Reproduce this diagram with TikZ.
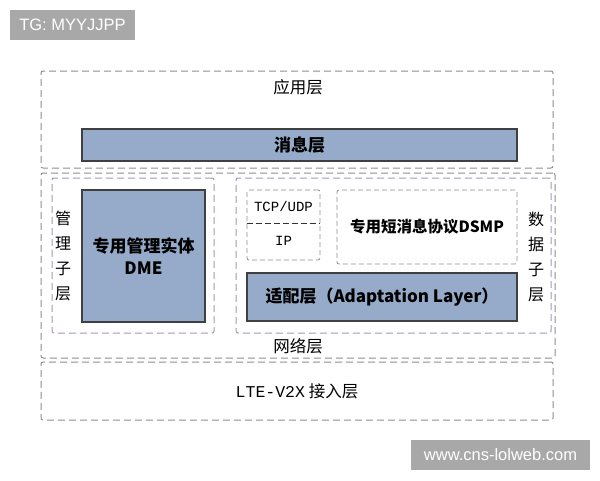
\documentclass[tikz,border=0pt]{standalone}
\usepackage{fontspec}
\setmainfont{Noto Sans CJK SC}
\newfontfamily\tcpfont{Liberation Mono}
\newfontfamily\tagfont{Liberation Sans}
\usetikzlibrary{positioning}
\definecolor{blockblue}{HTML}{95ABC9}
\definecolor{laydash}{HTML}{8E8E8E}
\definecolor{subdash}{HTML}{A597B5}
\definecolor{tagfill}{HTML}{A8A8A8}

\begin{document}
\begin{tikzpicture}[
		x=1pt,y=-1pt,
		layer/.style={
			draw=laydash,
			line width=1pt,
			dash pattern=on 7pt off 4pt,
			rounded corners=2pt,
			inner sep=0pt
		},
		sublayer/.style={
			layer,
			draw=subdash
		},
		block/.style={
			draw=black!75,
			fill=blockblue,
			line width=1.3pt,
			inner sep=0pt,
			font=\fontsize{17pt}{22pt}\selectfont\bfseries
		},
		lyrtext/.style={
			font=\fontsize{16.5pt}{20pt}\selectfont
		},
		vtext/.style={
			align=center,
			font=\fontsize{16pt}{25pt}\selectfont
		},
		tagbox/.style={
			fill=tagfill,
			text=white,
			inner sep=0pt,
			font=\tagfont\fontsize{16.5pt}{19pt}\selectfont
		}
		]
		\fill[white] (0,0) rectangle (600,480);
		\useasboundingbox (0,0) rectangle (600,480);
		% watermarks
		\node[tagbox, minimum width=125, minimum height=30] (tgtag) at (72.5,25) {TG: MYYJJPP};
		\node[tagbox, minimum width=179, minimum height=30] (webtag) at (500.5,455) {www.cns-lolweb.com};
		% application layer
		\node[layer, minimum width=512, minimum height=97] (app) at (297,119.5) {};
		\node[lyrtext] (applbl) at (298,87) {应用层};
		\node[block, minimum width=435, minimum height=32] (msg) at (299.5,145) {消息层};
		% network layer
		\node[layer, minimum width=514, minimum height=185] (net) at (298,265.5) {};
		\node[lyrtext] (netlbl) at (298,346) {网络层};
		\node[sublayer, minimum width=162, minimum height=155] (mgmt) at (133,255.5) {};
		\node[vtext] (mgmtlbl) at (63,256) {管\\理\\子\\层};
		\node[block, minimum width=123, minimum height=132, align=center] (dme) at (143.5,256) {专用管理实体\\DME};
		\node[sublayer, minimum width=315, minimum height=155] (data) at (393.5,255.5) {};
		\node[vtext] (datalbl) at (536,257) {数\\据\\子\\层};
		\node[layer, line width=0.8pt, dash pattern=on 5pt off 3pt, minimum width=73, minimum height=70] (tcpip) at (283.5,225) {};
		\node[font=\tcpfont\fontsize{14pt}{17pt}\selectfont] (tcp) at (283.5,206) {TCP/UDP};
		\node[font=\tcpfont\fontsize{14pt}{17pt}\selectfont] (ip) at (283.5,241) {IP};
		\coordinate (div) at (283.5,223);
		\draw[black!80, line width=1pt, dash pattern=on 6pt off 3pt] (tcpip.west |- div) -- (tcpip.east |- div);
		\node[layer, line width=0.8pt, dash pattern=on 5pt off 3pt, minimum width=180, minimum height=74, font=\fontsize{15.5pt}{18pt}\selectfont\bfseries] (dsmp) at (427,227) {专用短消息协议DSMP};
		\node[block, minimum width=270, minimum height=48] (adapt) at (382,297) {适配层（Adaptation Layer）};
		% access layer
		\node[layer, minimum width=512, minimum height=58] (access) at (297,391) {};
		\node[lyrtext] (accesslbl) at (297,391) {{\tcpfont LTE-V2X} 接入层};
		\end{tikzpicture}
\end{document}
